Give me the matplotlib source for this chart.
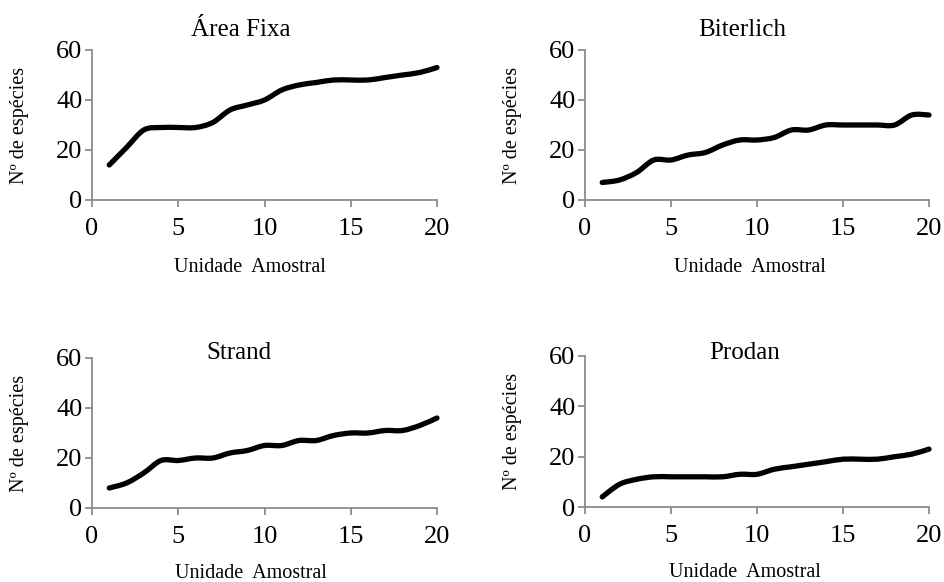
import numpy as np
import matplotlib
matplotlib.use('Agg')
import matplotlib.pyplot as plt
from matplotlib.path import Path
import matplotlib.patches as patches

plt.rcParams['font.family'] = ['Liberation Serif', 'DejaVu Serif']

# dados: numero acumulado de especies por unidade amostral
unidades = list(range(1, 21))
area_fixa = [14, 21, 28, 29, 29, 29, 31, 36, 38, 40, 44, 46, 47, 48, 48, 48, 49, 50, 51, 53]
biterlich = [7, 8, 11, 16, 16, 18, 19, 22, 24, 24, 25, 28, 28, 30, 30, 30, 30, 30, 34, 34]
strand = [8, 10, 14, 19, 19, 20, 20, 22, 23, 25, 25, 27, 27, 29, 30, 30, 31, 31, 33, 36]
prodan = [4, 9, 11, 12, 12, 12, 12, 12, 13, 13, 15, 16, 17, 18, 19, 19, 19, 20, 21, 23]

titulos = ['Área Fixa', 'Biterlich', 'Strand', 'Prodan']
series = [area_fixa, biterlich, strand, prodan]

W, H = 944, 582
# (left, top, right, bottom) em pixels
caixas = [(92, 50, 437, 200), (585, 50, 929, 200),
          (92, 358, 437, 508), (585, 356, 929, 507)]
titulo_pos = [(0.432, 1.135), (0.458, 1.135), (0.426, 1.035), (0.463, 1.02)]
xlab = [(0.458, -0.45), (0.48, -0.45), (0.46, -0.44), (0.465, -0.435)]

GRAY = '#8c8c8c'


def smooth_path(x, y):
    # curva suavizada estilo Excel (bezier tipo catmull-rom)
    pts = np.column_stack([x, y]).astype(float)
    n = len(pts)
    verts = [pts[0]]
    codes = [Path.MOVETO]
    for i in range(n - 1):
        p0 = pts[i - 1] if i > 0 else pts[i]
        p1 = pts[i]
        p2 = pts[i + 1]
        p3 = pts[i + 2] if i + 2 < n else pts[i + 1]
        c1 = p1 + (p2 - p0) / 6.0
        c2 = p2 - (p3 - p1) / 6.0
        verts += [c1, c2, p2]
        codes += [Path.CURVE4] * 3
    return Path(verts, codes)


fig = plt.figure(figsize=(W / 100, H / 100), dpi=100)

for k in range(4):
    l, t, r, b = caixas[k]
    ax = fig.add_axes([l / W, (H - b) / H, (r - l) / W, (b - t) / H])
    ax.set_xlim(0, 20)
    ax.set_ylim(0, 60)
    ax.set_xticks([0, 5, 10, 15, 20])
    ax.set_yticks([0, 20, 40, 60])
    for s in ['top', 'right']:
        ax.spines[s].set_visible(False)
    for s in ['left', 'bottom']:
        ax.spines[s].set_color(GRAY)
        ax.spines[s].set_linewidth(1.3)
    ax.tick_params(axis='both', direction='out', length=5, width=1.3,
                   color=GRAY, labelsize=19, labelcolor='black')
    ax.tick_params(axis='x', pad=8)
    ax.tick_params(axis='y', pad=2)

    p = patches.PathPatch(smooth_path(unidades, series[k]), fill=False,
                          ec='black', lw=3.8, capstyle='round',
                          joinstyle='round', clip_on=False, zorder=3)
    ax.add_patch(p)

    ax.text(*titulo_pos[k], titulos[k], transform=ax.transAxes,
            ha='center', va='center', fontsize=18)
    ax.set_ylabel('Nº de espécies', fontsize=14.5)
    ax.yaxis.set_label_coords(-0.21, 0.5)
    ax.yaxis.label.set_va('center')
    ax.set_xlabel('Unidade  Amostral', fontsize=14.5)
    ax.xaxis.set_label_coords(*xlab[k])
    ax.xaxis.label.set_va('center')

fig.savefig('out.png', dpi=100)
